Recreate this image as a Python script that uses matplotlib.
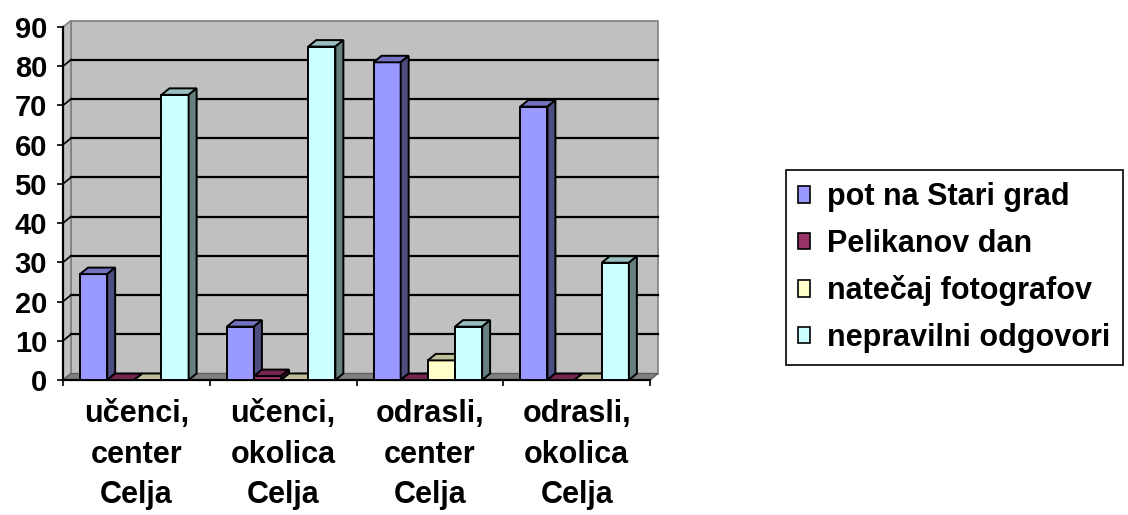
import matplotlib
matplotlib.use("Agg")
import matplotlib.pyplot as plt
from matplotlib.patches import Patch
import numpy as np

plt.rcParams['font.family'] = ['Liberation Sans', 'DejaVu Sans']
plt.rcParams['font.weight'] = 'bold'

categories = ["učenci,\ncenter\nCelja", "učenci,\nokolica\nCelja",
              "odrasli,\ncenter\nCelja", "odrasli,\nokolica\nCelja"]
series_names = ["pot na Stari grad", "Pelikanov dan",
                "natečaj fotografov", "nepravilni odgovori"]
pot_na_stari_grad = [27, 13.6, 81, 69.7]
pelikanov_dan = [0, 1, 0, 0]
natecaj_fotografov = [0, 0, 5, 0]
nepravilni_odgovori = [72.7, 85, 13.6, 29.9]
y_ticks = [0, 10, 20, 30, 40, 50, 60, 70, 80, 90]

series = [pot_na_stari_grad, pelikanov_dan, natecaj_fotografov, nepravilni_odgovori]
# front, top, side colours (Excel-like 3D shading)
colors = [("#9999FF", "#7373BF", "#4D4D80"),
          ("#993366", "#73264D", "#4D1A33"),
          ("#FFFFCC", "#BFBF99", "#808066"),
          ("#CCFFFF", "#99BFBF", "#668080")]

W, H = 1128, 515
fig = plt.figure(figsize=(W / 100, H / 100), dpi=100)
ax = fig.add_axes([63 / W, 1 - 380 / H, 587 / W, 353 / H])
ymax = y_ticks[-1]
ax.set_xlim(0, len(categories))
ax.set_ylim(0, ymax)
for s in ax.spines.values():
    s.set_visible(False)

# depth offset of the 3D box, in data units
dx = 8 / (587 / len(categories))
dy = 6.5 / (353 / ymax)
n = len(categories)

# walls and floor
ax.fill([dx, n + dx, n + dx, dx], [dy, dy, ymax + dy, ymax + dy],
        facecolor="#C0C0C0", edgecolor="#808080", lw=1.2, zorder=0, clip_on=False)
ax.fill([0, dx, dx, 0], [0, dy, ymax + dy, ymax],
        facecolor="#C0C0C0", edgecolor="#808080", lw=1.2, zorder=0.5, clip_on=False)
ax.fill([0, n, n + dx, dx], [0, 0, dy, dy],
        facecolor="#808080", edgecolor="#606060", lw=1, zorder=0.5, clip_on=False)
for v in y_ticks[1:-1]:
    ax.plot([dx, n + dx], [v + dy, v + dy], color="black", lw=1.6, zorder=1, clip_on=False)
    ax.plot([0, dx], [v, v + dy], color="black", lw=1.2, zorder=1, clip_on=False)

ax.plot([0, 0], [0, ymax], color="black", lw=1.6, zorder=2, clip_on=False)
ax.plot([0, n], [0, 0], color="black", lw=1.6, zorder=2, clip_on=False)

bw = 0.185
start = 0.116
z = 3
for g in range(n):
    for k, vals in enumerate(series):
        x0 = g + start + k * bw
        h = vals[g]
        front, top, side = colors[k]
        ax.bar(x0, h, width=bw, align='edge', color=front, edgecolor="black",
               lw=1.4, zorder=z, clip_on=False)
        ax.fill([x0, x0 + bw, x0 + bw + dx, x0 + dx], [h, h, h + dy, h + dy],
                facecolor=top, edgecolor="black", lw=1.4, zorder=z, clip_on=False)
        ax.fill([x0 + bw, x0 + bw + dx, x0 + bw + dx, x0 + bw], [0, dy, h + dy, h],
                facecolor=side, edgecolor="black", lw=1.4, zorder=z, clip_on=False)
        z += 1

ax.set_yticks(y_ticks)
ax.set_yticklabels([str(v) for v in y_ticks], fontsize=21, fontweight='bold')
ax.tick_params(axis='y', direction='out', length=4.5, width=1.2, pad=7)

ax.set_xticks(np.arange(n + 1))
ax.set_xticklabels([])
ax.set_xticks(np.arange(n) + 0.5, minor=True)
ax.set_xticklabels(categories, minor=True, fontsize=22, fontweight='bold', linespacing=1.45)
ax.tick_params(axis='x', which='major', direction='out', length=4.5, width=1.2)
ax.tick_params(axis='x', which='minor', length=0, pad=14)

handles = [Patch(facecolor=c[0], edgecolor="black", lw=1.2) for c in colors]
leg = fig.legend(handles, series_names, loc='upper left',
                 bbox_to_anchor=(786 / W, 1 - 170 / H), borderaxespad=0,
                 prop={'size': 22, 'weight': 'bold'}, frameon=True, fancybox=False,
                 edgecolor="black", framealpha=1, handlelength=0.4, handleheight=0.45,
                 handletextpad=0.55, labelspacing=0.54, borderpad=0.4)
leg.get_frame().set_linewidth(1.2)

fig.savefig("out.png", dpi=100)
